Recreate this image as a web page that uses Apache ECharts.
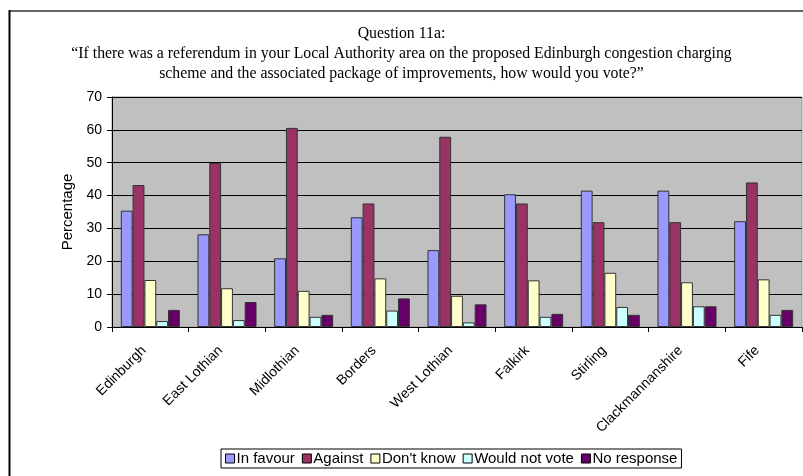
<!DOCTYPE html>
<html>
<head>
<meta charset="utf-8">
<style>html,body{margin:0;padding:0;background:#fff;}#c{width:803px;height:476px;}</style>
<script src="https://cdn.jsdelivr.net/npm/echarts@6/dist/echarts.min.js"></script>
</head>
<body>
<div id="c"></div>
<script>
const categories = ["Edinburgh","East Lothian","Midlothian","Borders","West Lothian","Falkirk","Stirling","Clackmannanshire","Fife"];
const inFavour     = [35.4, 28.2, 20.9, 33.4, 23.4, 40.4, 41.5, 41.5, 32.2];
const against      = [43.2, 49.9, 60.6, 37.6, 57.9, 37.6, 31.9, 31.9, 44.0];
const dontKnow     = [14.3, 11.8, 11.0, 14.8,  9.5, 14.2, 16.5, 13.6, 14.5];
const wouldNotVote = [ 1.8,  2.1,  3.1,  5.0,  1.4,  3.1,  6.1,  6.3,  3.7];
const noResponse   = [ 5.2,  7.6,  3.7,  8.7,  6.9,  4.0,  3.7,  6.3,  5.2];
const seriesNames  = ["In favour","Against","Don't know","Would not vote","No response"];
const yTicks = [0,10,20,30,40,50,60,70];
const titleLines = [
  "Question 11a:",
  "\u201cIf there was a referendum in your Local Authority area on the proposed Edinburgh congestion charging",
  "scheme and the associated package of improvements, how would you vote?\u201d"
];

const colors = ["#9999FF","#993366","#FFFFCC","#CCFFFF","#660066"];
const allData = [inFavour, against, dontKnow, wouldNotVote, noResponse];
const titleTops = [26, 46, 66];

const chart = echarts.init(document.getElementById('c'), null, {renderer:'canvas'});
chart.setOption({
  animation:false,
  backgroundColor:'#fff',
  title: titleLines.map((t,i)=>({
    text:t, left:'center', top:titleTops[i], padding:0,
    textStyle:{fontFamily:'Liberation Serif', fontSize:15.8, fontWeight:'normal', color:'#000'}
  })),
  graphic:[
    {type:'line', shape:{x1:9, y1:11, x2:803, y2:11}, style:{stroke:'#666', lineWidth:2}},
    {type:'line', shape:{x1:9.5, y1:10, x2:9.5, y2:476}, style:{stroke:'#000', lineWidth:2}}
  ],
  legend:{
    data:seriesNames,
    bottom:8, left:221,
    icon:'rect', itemWidth:9, itemHeight:9, itemGap:7,
    borderColor:'#000', borderWidth:1, padding:[2,4,2,4],
    textStyle:{fontFamily:'Liberation Sans', fontSize:15, color:'#000', padding:[0,0,0,-3]},
    itemStyle:{borderColor:'#000', borderWidth:1}
  },
  grid:{left:112, right:1, top:97, height:230, show:true, backgroundColor:'#C0C0C0', borderColor:'#999', borderWidth:1},
  xAxis:{
    type:'category', data:categories,
    axisLine:{lineStyle:{color:'#000', width:1}},
    axisTick:{show:true, length:5, lineStyle:{color:'#000'}},
    axisLabel:{rotate:45, fontFamily:'Liberation Sans', fontSize:14, color:'#000', margin:15, interval:0, padding:[0,9,0,0]}
  },
  yAxis:{
    type:'value', min:yTicks[0], max:yTicks[yTicks.length-1], interval:10,
    name:'Percentage', nameLocation:'middle', nameGap:35, nameRotate:90,
    nameTextStyle:{fontFamily:'Liberation Sans', fontSize:15, color:'#000'},
    axisLine:{show:true, lineStyle:{color:'#000'}},
    axisTick:{show:true, length:5, lineStyle:{color:'#000'}},
    axisLabel:{fontFamily:'Liberation Sans', fontSize:14, color:'#000', margin:10},
    splitLine:{show:true, lineStyle:{color:'#000', width:1}}
  },
  series: seriesNames.map((n,i)=>({
    name:n, type:'bar', data:allData[i],
    barGap:'0%', barCategoryGap:'23%',
    itemStyle:{color:colors[i], borderColor:'#333', borderWidth:1}
  }))
});
</script>
</body>
</html>
